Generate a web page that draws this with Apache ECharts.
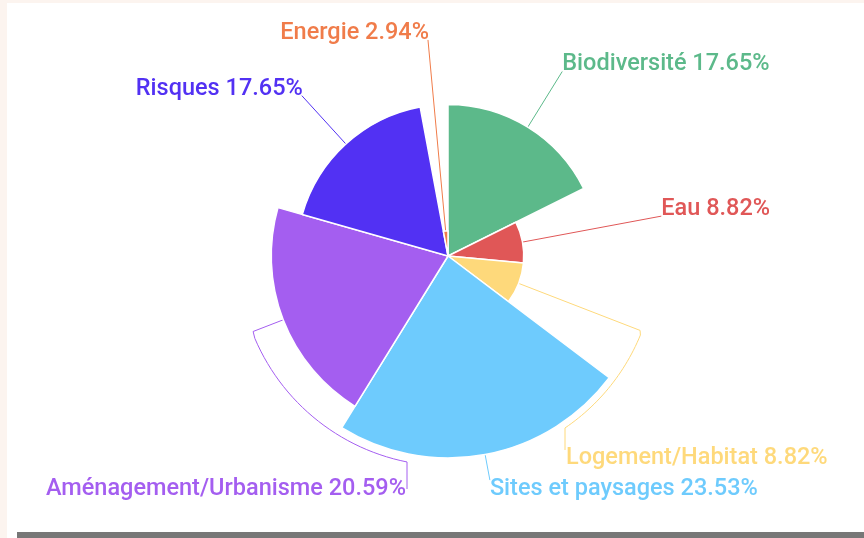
<!DOCTYPE html>
<html><head><meta charset="utf-8">
<script src="https://cdn.jsdelivr.net/npm/echarts@6/dist/echarts.min.js"></script>
<style>
html,body{margin:0;padding:0;width:864px;height:538px;overflow:hidden;background:#fcf4ef;}
#panel{position:absolute;left:7px;top:3px;width:857px;height:535px;background:#ffffff;}
#chart{position:absolute;left:0;top:0;width:864px;height:538px;}
#bar{position:absolute;left:17px;top:532px;width:847px;height:6px;background:#777777;}
</style></head><body>
<div id="panel"></div>
<div id="chart"></div>
<div id="bar"></div>
<script>
// ---- data ----
const categories = ['Biodiversité', 'Eau', 'Logement/Habitat', 'Sites et paysages', 'Aménagement/Urbanisme', 'Risques', 'Energie'];
const counts = [6, 3, 3, 8, 7, 6, 1];
const colors = ['#5cb98a', '#e05757', '#fed97b', '#6ecbfd', '#a45ef0', '#5231f3', '#f07c4a'];

// ---- layout / style config ----
const CX = 448, CY = 256, R = 202;
const lineLength = { 'Sites et paysages': 26, 'Aménagement/Urbanisme': 7, 'Logement/Habitat': 4 };
const displaced = {
  'Aménagement/Urbanisme': { x: 406, y: 477, align: 'right', arcR: 210 },
  'Logement/Habitat': { x: 566, y: 446, align: 'left', arcR: 208 }
};

const chart = echarts.init(document.getElementById('chart'), null, { renderer: 'canvas' });

const seriesData = categories.map(function (name, i) {
  const item = { name: name, value: counts[i], itemStyle: { color: colors[i] } };
  if (lineLength[name] != null) item.labelLine = { length: lineLength[name] };
  return item;
});

chart.setOption({
  animation: false,
  series: [{
    type: 'pie',
    roseType: 'radius',
    center: [CX, CY],
    radius: [0, R],
    startAngle: 90,
    clockwise: true,
    avoidLabelOverlap: false,
    itemStyle: { borderColor: '#ffffff', borderWidth: 1.5 },
    label: {
      show: true,
      position: 'outside',
      formatter: '{b} {d}%',
      color: 'inherit',
      fontFamily: 'Roboto',
      fontSize: 23.5,
      fontWeight: 500
    },
    labelLine: { show: true, length: 15, length2: 0, smooth: false, lineStyle: { width: 1 } },
    labelLayout: function (p) {
      const name = categories[p.dataIndex];
      const pts = p.labelLinePoints;
      if (!pts) return {};
      const p0 = pts[0], p1 = pts[1];
      const d = displaced[name];
      if (d) {
        const h = p.labelRect.height;
        const ax = d.align === 'right' ? d.x + 1 : d.x - 1;
        const ay = d.y + (d.align === 'right' ? h / 2 : 4);
        const rr = d.arcR;
        const cyc = CY + Math.sqrt(Math.max(0, rr * rr - (ax - CX) * (ax - CX)));
        const a1 = Math.atan2(p1[1] - CY, p1[0] - CX);
        const a2 = Math.atan2(cyc - CY, ax - CX);
        const line = [[p0[0], p0[1]], [p1[0], p1[1]]];
        const n = 30;
        for (let i = 1; i <= n; i++) {
          const a = a1 + (a2 - a1) * i / n;
          line.push([CX + rr * Math.cos(a), CY + rr * Math.sin(a)]);
        }
        line.push([ax, ay]);
        return { x: d.x, y: d.y, align: d.align, verticalAlign: 'top', labelLinePoints: line };
      }
      const e = pts[pts.length - 1];
      const right = p1[0] >= p0[0];
      const down = p1[1] > p0[1];
      return {
        x: e[0] + (right ? 0 : 1),
        y: e[1] + (down ? -3 : 5),
        align: right ? 'left' : 'right',
        verticalAlign: down ? 'top' : 'bottom',
        labelLinePoints: pts
      };
    },
    data: seriesData
  }]
});
</script>
</body></html>
